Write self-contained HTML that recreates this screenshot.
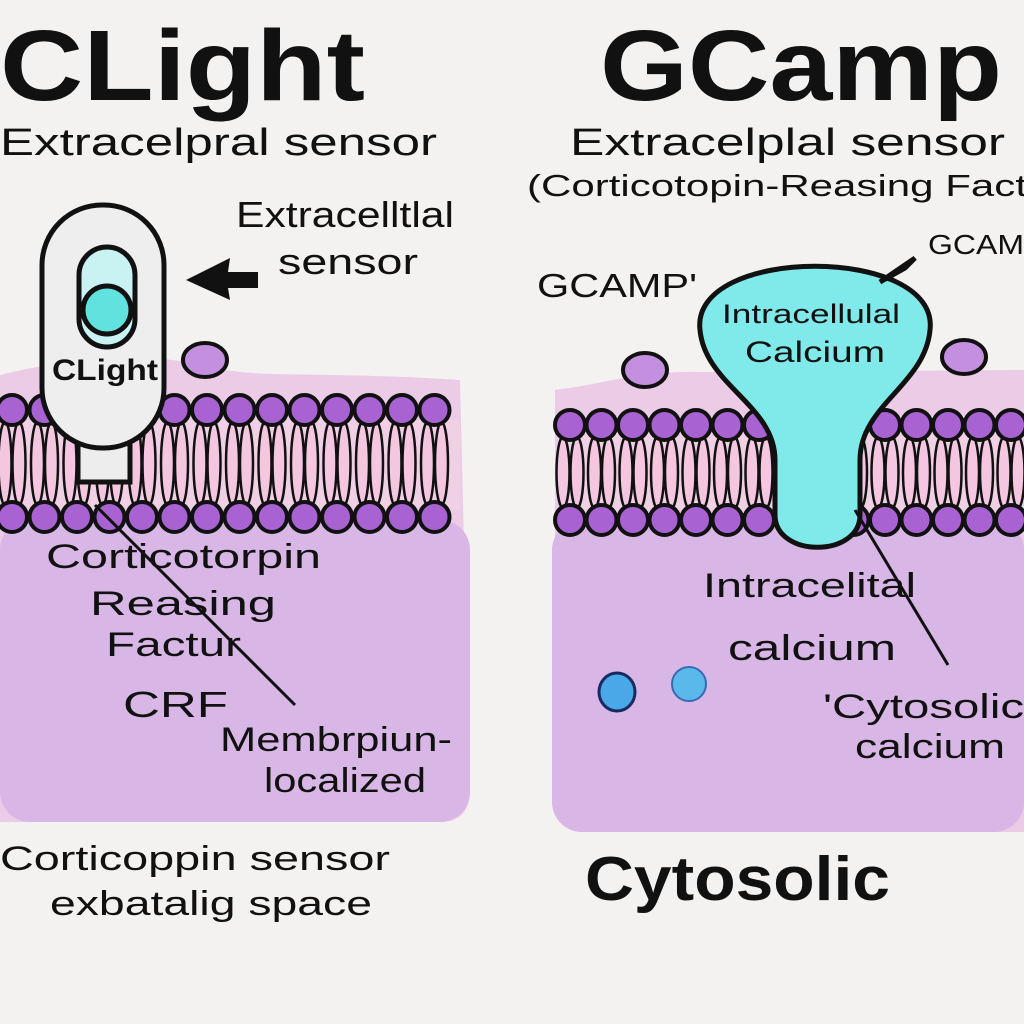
<!DOCTYPE html>
<html><head><meta charset="utf-8"><style>
html,body{margin:0;padding:0;background:#f3f2f0}
svg{display:block}
text{font-family:"Liberation Sans",sans-serif;fill:#111}
</style></head><body>
<svg id="s" width="1024" height="1024" viewBox="0 0 1024 1024" xmlns="http://www.w3.org/2000/svg">
<rect width="1024" height="1024" fill="#f3f2f0"/>
<!-- cytoplasm panels -->
<path d="M0,375 C60,360 140,350 200,365 C260,380 300,370 460,380 L470,790 Q470,822 440,822 L0,822 Z" fill="#eccbe6"/>
<rect x="0" y="520" width="470" height="302" rx="30" fill="#d8b6e6"/>
<path d="M555,390 C600,385 640,370 700,372 L1024,370 L1024,832 L585,832 Q555,832 555,800 Z" fill="#eccbe6"/>
<rect x="552" y="520" width="472" height="312" rx="30" fill="#d8b6e6"/>
<rect x="0" y="420" width="460" height="90" fill="#f0d0e4"/>
<rect x="560" y="432" width="464" height="82" fill="#f0d0e4"/>
<g id="mem"></g>
<!-- extra floating heads -->
<ellipse cx="205" cy="360" rx="22" ry="17" fill="#c58fe0" stroke="#111" stroke-width="4"/>
<ellipse cx="645" cy="370" rx="22" ry="17" fill="#c58fe0" stroke="#111" stroke-width="4"/>
<ellipse cx="964" cy="357" rx="22" ry="17" fill="#c58fe0" stroke="#111" stroke-width="4"/>
<!-- CLight capsule -->
<rect x="78" y="420" width="52" height="62" fill="#ededed" stroke="#111" stroke-width="5"/>
<rect x="42" y="205" width="122" height="243" rx="60" fill="#eeeeee" stroke="#111" stroke-width="5"/>
<rect x="79" y="247" width="56" height="100" rx="28" fill="#c9f2f2" stroke="#111" stroke-width="5"/>
<circle cx="107" cy="310" r="24" fill="#62e2de" stroke="#111" stroke-width="5"/>
<text x="52" y="380" font-size="30" font-weight="bold" textLength="106" lengthAdjust="spacingAndGlyphs">CLight</text>
<!-- arrow -->
<path d="M258,272 L228,272 L230,258 L186,280 L230,300 L228,288 L258,288 Z" fill="#111"/>
<!-- GCaMP blob -->
<path d="M700,330 C690,245 940,245 930,330 C925,385 860,405 860,460 L860,515 C860,558 775,558 775,515 L775,460 C775,405 705,385 700,330 Z" fill="#80eaea" stroke="#111" stroke-width="5"/>
<path d="M880,282 L915,258 L905,268 Z" stroke="#111" stroke-width="5" fill="#111"/>
<!-- leader lines -->
<line x1="95" y1="505" x2="295" y2="705" stroke="#111" stroke-width="3"/>
<line x1="855" y1="510" x2="948" y2="665" stroke="#111" stroke-width="3"/>
<!-- calcium dots -->
<ellipse cx="617" cy="692" rx="18" ry="19" fill="#4aa8e8" stroke="#1a2a60" stroke-width="3"/>
<ellipse cx="689" cy="684" rx="17" ry="17" fill="#5ab8ea" stroke="#3a6ab0" stroke-width="2"/>
<!-- titles -->
<text x="0" y="100" font-size="100" font-weight="bold" textLength="365" lengthAdjust="spacingAndGlyphs">CLight</text>
<text x="600" y="100" font-size="100" font-weight="bold" textLength="402" lengthAdjust="spacingAndGlyphs">GCamp</text>
<text x="0" y="155" font-size="38" textLength="437" lengthAdjust="spacingAndGlyphs">Extracelpral sensor</text>
<text x="570" y="155" font-size="38" textLength="435" lengthAdjust="spacingAndGlyphs">Extracelplal sensor</text>
<text x="527" y="196" font-size="31" textLength="500" lengthAdjust="spacingAndGlyphs">(Corticotopin-Reasing Fact</text>
<text x="236" y="227" font-size="36" textLength="218" lengthAdjust="spacingAndGlyphs">Extracelltlal</text>
<text x="278" y="274" font-size="36" textLength="140" lengthAdjust="spacingAndGlyphs">sensor</text>
<text x="537" y="297" font-size="33" textLength="160" lengthAdjust="spacingAndGlyphs">GCAMP'</text>
<text x="928" y="254" font-size="28" textLength="96" lengthAdjust="spacingAndGlyphs">GCAM</text>
<text x="722" y="323" font-size="27" textLength="178" lengthAdjust="spacingAndGlyphs">Intracellulal</text>
<text x="745" y="362" font-size="30" textLength="140" lengthAdjust="spacingAndGlyphs">Calcium</text>
<text x="46" y="568" font-size="34" textLength="275" lengthAdjust="spacingAndGlyphs">Corticotorpin</text>
<text x="90" y="615" font-size="34" textLength="186" lengthAdjust="spacingAndGlyphs">Reasing</text>
<text x="106" y="656" font-size="34" textLength="135" lengthAdjust="spacingAndGlyphs">Factur</text>
<text x="123" y="717" font-size="36" textLength="105" lengthAdjust="spacingAndGlyphs">CRF</text>
<text x="220" y="751" font-size="34" textLength="232" lengthAdjust="spacingAndGlyphs">Membrpiun-</text>
<text x="264" y="792" font-size="34" textLength="162" lengthAdjust="spacingAndGlyphs">localized</text>
<text x="703" y="597" font-size="34" textLength="213" lengthAdjust="spacingAndGlyphs">Intracelital</text>
<text x="728" y="660" font-size="36" textLength="168" lengthAdjust="spacingAndGlyphs">calcium</text>
<text x="823" y="718" font-size="34" textLength="201" lengthAdjust="spacingAndGlyphs">'Cytosolic</text>
<text x="855" y="758" font-size="34" textLength="150" lengthAdjust="spacingAndGlyphs">calcium</text>
<text x="0" y="870" font-size="34" textLength="390" lengthAdjust="spacingAndGlyphs">Corticoppin sensor</text>
<text x="50" y="915" font-size="34" textLength="322" lengthAdjust="spacingAndGlyphs">exbatalig space</text>
<text x="585" y="900" font-size="62" font-weight="bold" textLength="305" lengthAdjust="spacingAndGlyphs">Cytosolic</text>
</svg>
<script>
(function(){
var g=document.getElementById('mem'),h='';
function row(x0,x1,step,yt,yb){
 var cy=(yt+yb)/2, ry=(yb-yt)/2-12;
 for(var x=x0;x<=x1;x+=step){
  h+='<ellipse cx="'+(x-7)+'" cy="'+cy+'" rx="6.5" ry="'+ry+'" fill="#f4c6df" stroke="#111" stroke-width="2.5"/>';
  h+='<ellipse cx="'+(x+7)+'" cy="'+cy+'" rx="6.5" ry="'+ry+'" fill="#f4c6df" stroke="#111" stroke-width="2.5"/>';
 }
 for(var x=x0;x<=x1;x+=step){
  h+='<circle cx="'+x+'" cy="'+yt+'" r="15" fill="#a862d2" stroke="#111" stroke-width="4"/>';
  h+='<circle cx="'+x+'" cy="'+yb+'" r="15" fill="#a862d2" stroke="#111" stroke-width="4"/>';
 }
}
row(12,455,32.5,410,517);
row(570,1024,31.5,425,520);
g.innerHTML=h;
})();
</script>
</body></html>
